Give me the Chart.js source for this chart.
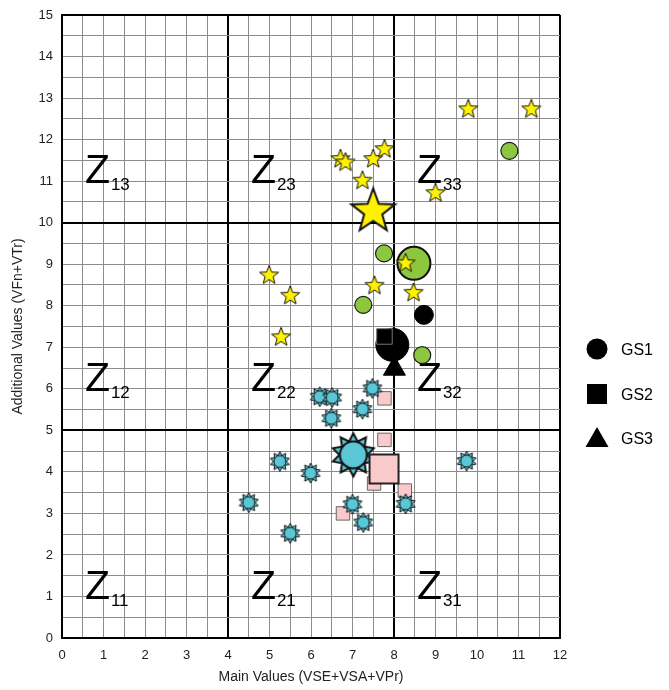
<!DOCTYPE html>
<html lang="en">
<head>
  <meta charset="UTF-8" />
  <title>Zone Chart</title>
  <script src="https://cdn.jsdelivr.net/npm/chart.js"></script>
  <style>
    html, body { margin: 0; padding: 0; background: #fff; }
    .chart-box { width: 669px; height: 690px; position: relative; }
  </style>
</head>
<body>
  <div class="chart-box"><canvas id="zoneChart"></canvas></div>

  <script>
    // axis ticks
    const xTickLabels = ['0', '1', '2', '3', '4', '5', '6', '7', '8', '9', '10', '11', '12'];
    const yTickLabels = ['0', '1', '2', '3', '4', '5', '6', '7', '8', '9', '10', '11', '12', '13', '14', '15'];
    const xBounds = [4, 8];
    const yBounds = [5, 10];

    // zone labels
    const zoneNames = ['11', '12', '13', '21', '22', '23', '31', '32', '33'];
    const zoneX = [0.6, 0.6, 0.6, 4.6, 4.6, 4.6, 8.6, 8.6, 8.6];
    const zoneY = [0.95, 5.95, 10.95, 0.95, 5.95, 10.95, 0.95, 5.95, 10.95];

    // GS1 - circles
    const greenX = [7.76, 7.26, 8.68, 10.78];
    const greenY = [9.26, 8.02, 6.81, 11.73];
    const greenMeanX = [8.48];
    const greenMeanY = [9.02];
    const gs1X = [8.72];
    const gs1Y = [7.78];
    const gs1MeanX = [7.96];
    const gs1MeanY = [7.06];

    // GS2 - squares
    const gs2X = [7.77];
    const gs2Y = [7.26];
    const pinkX = [7.77, 7.77, 7.52, 8.26, 6.77];
    const pinkY = [5.77, 4.77, 3.72, 3.55, 3.0];
    const pinkMeanX = [7.76];
    const pinkMeanY = [4.07];

    // GS3 - triangle
    const gs3X = [8.01];
    const gs3Y = [6.48];

    // stars
    const yellowX = [6.71, 6.83, 7.50, 7.77, 7.24, 9.79, 11.31, 9.0, 4.99, 5.50, 7.53, 8.47, 8.28, 5.28];
    const yellowY = [11.53, 11.45, 11.53, 11.77, 11.01, 12.73, 12.73, 10.71, 8.73, 8.24, 8.48, 8.31, 9.02, 7.24];
    const yellowMeanX = [7.50];
    const yellowMeanY = [10.27];
    const blueX = [6.21, 6.51, 7.48, 7.24, 6.49, 5.25, 5.99, 4.50, 7.0, 7.26, 5.50, 8.28, 9.75];
    const blueY = [5.81, 5.79, 6.01, 5.51, 5.29, 4.25, 3.97, 3.26, 3.22, 2.78, 2.52, 3.23, 4.26];
    const blueMeanX = [7.02];
    const blueMeanY = [4.41];

    const legendNames = ['GS1', 'GS2', 'GS3'];

    const pts = (xs, ys) => xs.map((x, i) => ({ x: x, y: ys[i] }));

    function starCanvas(R, r, n, fill, lw, circleR) {
      const c = document.createElement('canvas');
      const size = Math.ceil(R + lw + 1) * 2;
      c.width = size;
      c.height = size;
      const g = c.getContext('2d');
      const m = size / 2;
      g.beginPath();
      for (let i = 0; i < 2 * n; i++) {
        const rad = i % 2 ? r : R;
        const a = -Math.PI / 2 + i * Math.PI / n;
        g.lineTo(m + rad * Math.cos(a), m + rad * Math.sin(a));
      }
      g.closePath();
      g.fillStyle = fill;
      g.fill();
      g.lineWidth = lw;
      g.strokeStyle = '#111';
      g.stroke();
      if (circleR) {
        g.beginPath();
        g.arc(m, m, circleR, 0, Math.PI * 2);
        g.fill();
        g.stroke();
      }
      return c;
    }

    const yellowStar = starCanvas(10, 4.2, 5, '#FFF200', 1, 0);
    const yellowBig = starCanvas(23, 9.5, 5, '#FFF200', 2, 0);
    const blueStar = starCanvas(10, 6.5, 10, '#5BC6D6', 1, 6);
    const blueBig = starCanvas(21.5, 14, 10, '#5BC6D6', 2, 13.5);

    const zoneLabels = {
      id: 'zoneLabels',
      beforeDatasetsDraw(chart) {
        const { ctx, scales } = chart;
        ctx.save();
        ctx.fillStyle = '#000';
        ctx.textBaseline = 'alphabetic';
        ctx.textAlign = 'left';
        zoneNames.forEach((name, i) => {
          const px = scales.x.getPixelForValue(zoneX[i]);
          const py = scales.y.getPixelForValue(zoneY[i]);
          ctx.font = '41px "Liberation Sans", Arial, sans-serif';
          ctx.fillText('Z', px - 2, py);
          ctx.font = '17px "Liberation Sans", Arial, sans-serif';
          ctx.fillText(name, px + 24, py + 7);
        });
        ctx.restore();
      },
      afterDraw(chart) {
        // legend on the right
        const { ctx, chartArea } = chart;
        const mx = chartArea.right + 37;
        const ys = [349, 394, 438];
        ctx.save();
        ctx.fillStyle = '#000';
        ctx.beginPath();
        ctx.arc(mx, ys[0], 10.5, 0, Math.PI * 2);
        ctx.fill();
        ctx.fillRect(mx - 10, ys[1] - 10, 20, 20);
        ctx.beginPath();
        ctx.moveTo(mx, ys[2] - 11);
        ctx.lineTo(mx + 11.5, ys[2] + 9);
        ctx.lineTo(mx - 11.5, ys[2] + 9);
        ctx.closePath();
        ctx.fill();
        ctx.font = '16px "Liberation Sans", Arial, sans-serif';
        ctx.textBaseline = 'middle';
        legendNames.forEach((n, i) => ctx.fillText(n, mx + 24, ys[i] + 2));
        ctx.restore();
      }
    };

    const thick = (v, bounds, max) => v === 0 || v === max || bounds.includes(v);

    new Chart(document.getElementById('zoneChart'), {
      type: 'scatter',
      data: {
        datasets: [
          { label: 'green', data: pts(greenX, greenY), pointStyle: 'circle', pointRadius: 8.5, backgroundColor: '#8DC63F', borderColor: '#1a1a1a', borderWidth: 1.2, order: 12 },
          { label: 'green mean', data: pts(greenMeanX, greenMeanY), pointStyle: 'circle', pointRadius: 16.5, backgroundColor: '#8DC63F', borderColor: '#111', borderWidth: 2, order: 11 },
          { label: 'yellow', data: pts(yellowX, yellowY), pointStyle: yellowStar, pointRadius: 9, order: 10 },
          { label: 'yellow mean', data: pts(yellowMeanX, yellowMeanY), pointStyle: yellowBig, pointRadius: 22, order: 9 },
          { label: 'GS1', data: pts(gs1X, gs1Y), pointStyle: 'circle', pointRadius: 9.5, backgroundColor: '#000', borderColor: '#000', borderWidth: 1, order: 8 },
          { label: 'GS1 mean', data: pts(gs1MeanX, gs1MeanY), pointStyle: 'circle', pointRadius: 16.5, backgroundColor: '#000', borderColor: '#000', borderWidth: 1, order: 7 },
          { label: 'GS2', data: pts(gs2X, gs2Y), pointStyle: 'rect', pointRadius: 11, backgroundColor: '#000', borderColor: '#777', borderWidth: 1, order: 6 },
          { label: 'GS3', data: pts(gs3X, gs3Y), pointStyle: 'triangle', pointRadius: 12.7, backgroundColor: '#000', borderColor: '#000', borderWidth: 1, order: 5 },
          { label: 'pink', data: pts(pinkX, pinkY), pointStyle: 'rect', pointRadius: 9.5, backgroundColor: '#F9C9CB', borderColor: '#666', borderWidth: 1, order: 4 },
          { label: 'blue', data: pts(blueX, blueY), pointStyle: blueStar, pointRadius: 9, order: 3 },
          { label: 'blue mean', data: pts(blueMeanX, blueMeanY), pointStyle: blueBig, pointRadius: 21, order: 2 },
          { label: 'pink mean', data: pts(pinkMeanX, pinkMeanY), pointStyle: 'rect', pointRadius: 20.5, backgroundColor: '#F9C9CB', borderColor: '#222', borderWidth: 2, order: 1 }
        ]
      },
      options: {
        responsive: true,
        maintainAspectRatio: false,
        animation: false,
        layout: { autoPadding: false, padding: { top: 15, right: 109, bottom: 0, left: 6 } },
        plugins: { legend: { display: false }, tooltip: { enabled: false } },
        scales: {
          x: {
            type: 'linear', min: 0, max: 12,
            afterFit: s => { s.height = 52; s.paddingLeft = 0; s.paddingRight = 0; },
            border: { display: true, color: '#000', width: 2 },
            grid: {
              drawTicks: false,
              color: c => thick(c.tick.value, xBounds, 12) ? '#000' : '#8c8c8c',
              lineWidth: c => thick(c.tick.value, xBounds, 12) ? 2 : 1
            },
            ticks: {
              stepSize: 0.5, autoSkip: false, maxRotation: 0, padding: 10, color: '#222',
              font: { size: 13, family: '"Liberation Sans", Arial, sans-serif' },
              callback: v => Number.isInteger(v) ? xTickLabels[v] : ''
            },
            title: { display: true, text: 'Main Values (VSE+VSA+VPr)', color: '#222', padding: { top: 0, bottom: 4 },
              font: { size: 14, family: '"Liberation Sans", Arial, sans-serif' } }
          },
          y: {
            type: 'linear', min: 0, max: 15,
            afterFit: s => { s.width = 56; s.paddingTop = 0; s.paddingBottom = 0; },
            border: { display: true, color: '#000', width: 2 },
            grid: {
              drawTicks: false,
              color: c => thick(c.tick.value, yBounds, 15) ? '#000' : '#8c8c8c',
              lineWidth: c => thick(c.tick.value, yBounds, 15) ? 2 : 1
            },
            ticks: {
              stepSize: 0.5, autoSkip: false, padding: 9, color: '#222',
              font: { size: 13, family: '"Liberation Sans", Arial, sans-serif' },
              callback: v => Number.isInteger(v) ? yTickLabels[v] : ''
            },
            title: { display: true, text: 'Additional Values (VFn+VTr)', color: '#222', padding: { bottom: 4 },
              font: { size: 14, family: '"Liberation Sans", Arial, sans-serif' } }
          }
        }
      },
      plugins: [zoneLabels]
    });
  </script>
</body>
</html>
